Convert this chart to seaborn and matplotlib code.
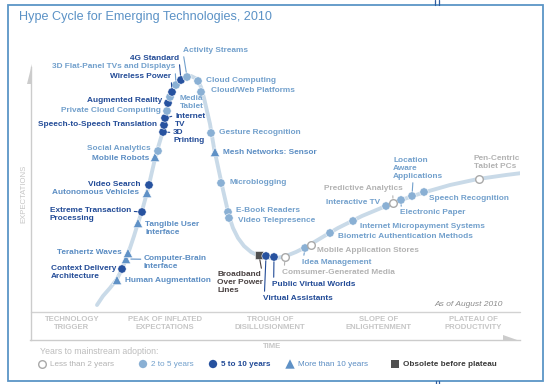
import pandas as pd
import seaborn as sns
import matplotlib.pyplot as plt
from matplotlib.patches import Rectangle, Polygon

# hype curve (time, expectations)
curve_time = [67, 73, 80, 87, 92, 96, 100, 104, 108, 112, 115, 118, 121, 124, 127, 130,
              133, 135, 137, 140, 144, 149, 155, 161, 167, 171, 174, 177, 180, 182, 184,
              187, 190, 193, 196, 199, 203, 208, 214, 221, 229, 238, 247, 256, 266, 276,
              286, 296, 308, 320, 332, 344, 356, 368, 380, 392, 406, 420, 434, 448, 462,
              476, 492]
curve_expect = [32, 41, 49, 58, 68, 78, 89, 101, 114, 126, 137, 148, 161, 174, 186, 196,
                206, 217, 227, 239, 249, 256, 260, 261, 258, 250, 239, 226, 213, 201, 189,
                175, 161, 147, 134, 121, 109, 99, 91, 85, 81, 79, 79, 81, 85, 90, 96, 102,
                109, 115, 121, 126, 131, 136, 140, 144, 148, 152, 155, 158, 160, 162, 164]

tech_names = ['Human Augmentation', 'Context Delivery\nArchitecture', 'Computer-Brain\nInterface',
              'Terahertz Waves', 'Tangible User\nInterface', 'Extreme Transaction\nProcessing',
              'Autonomous Vehicles', 'Video Search', 'Mobile Robots', 'Social Analytics',
              '3D\nPrinting', 'Speech-to-Speech Translation', 'Internet\nTV',
              'Private Cloud Computing', 'Augmented Reality', 'Media\nTablet', 'Wireless Power',
              '3D Flat-Panel TVs and Displays', '4G Standard', 'Activity Streams',
              'Cloud Computing', 'Cloud/Web Platforms', 'Gesture Recognition',
              'Mesh Networks: Sensor', 'Microblogging', 'E-Book Readers', 'Video Telepresence',
              'Broadband\nOver Power\nLines', 'Virtual Assistants', 'Public Virtual Worlds',
              'Comsumer-Generated Media', 'Idea Management', 'Mobile Application Stores',
              'Biometric Authentication Methods', 'Internet Micropayment Systems',
              'Interactive TV', 'Predictive Analytics', 'Electronic Paper',
              'Location\nAware\nApplications', 'Speech Recognition', 'Pen-Centric\nTablet PCs']
tech_time = [87, 92, 96, 98, 108, 112, 117, 119, 125, 128, 133, 134, 135, 137, 138, 140, 142,
             146, 151, 157, 168, 171, 181, 185, 191, 198, 199, 229, 236, 244, 255, 275, 281,
             300, 323, 356, 363, 371, 382, 394, 449]
tech_expect = [57, 68, 78, 84, 114, 125, 144, 152, 180, 186, 205, 212, 219, 226, 234, 240, 245,
               252, 257, 260, 256, 245, 204, 185, 154, 125, 119, 82, 81, 80, 80, 89, 92, 104,
               116, 131, 134, 137, 141, 145, 158]
tech_years = ['gt10', '5to10', 'gt10', 'gt10', 'gt10', '5to10', 'gt10', '5to10', 'gt10', '2to5',
              '5to10', '5to10', '5to10', '2to5', '5to10', '2to5', '5to10', '2to5', '5to10', '2to5',
              '2to5', '2to5', '2to5', 'gt10', '2to5', '2to5', '2to5', 'obs', '5to10', '5to10',
              'lt2', '2to5', 'lt2', '2to5', '2to5', '2to5', 'lt2', '2to5', '2to5', '2to5', 'lt2']

year_groups = ['lt2', '2to5', '5to10', 'gt10', 'obs']
year_labels = ['Less than 2 years', '2 to 5 years', '5 to 10 years', 'More than 10 years',
               'Obsolete before plateau']

phase_names = ['TECHNOLOGY\nTRIGGER', 'PEAK OF INFLATED\nEXPECTATIONS', 'TROUGH OF\nDISILLUSIONMENT',
               'SLOPE OF\nENLIGHTENMENT', 'PLATEAU OF\nPRODUCTIVITY']
phase_time = [42, 135, 240, 349, 443]

# styles
mark_color = {'lt2': 'white', '2to5': '#8ab0d4', '5to10': '#27529f', 'gt10': '#5f91c6', 'obs': '#505050'}
text_color = {'lt2': '#b3b3b3', '2to5': '#72a0cc', '5to10': '#224b97', 'gt10': '#5b8dc3', 'obs': '#4a4242'}
mark_shape = {'lt2': 'o', '2to5': 'o', '5to10': 'o', 'gt10': '^', 'obs': 's'}
mark_size = {'lt2': 30, '2to5': 36, '5to10': 36, 'gt10': 46, 'obs': 34}

# label placement: offset in pixels, alignment, leader anchor (None = no leader)
label_layout = {
    'Human Augmentation': (8, -1, 'left', None),
    'Context Delivery\nArchitecture': (-6, -3, 'right', None),
    'Computer-Brain\nInterface': (18, -4, 'left', (0, 0.75)),
    'Terahertz Waves': (-6, 1, 'right', None),
    'Tangible User\nInterface': (7, -5, 'left', None),
    'Extreme Transaction\nProcessing': (-11, -3, 'right', (1, 0.75)),
    'Autonomous Vehicles': (-8, 0, 'right', None),
    'Video Search': (-8, 1, 'right', None),
    'Mobile Robots': (-6, -1, 'right', None),
    'Social Analytics': (-7, 3, 'right', None),
    '3D\nPrinting': (10, -5, 'left', (0, 0.8)),
    'Speech-to-Speech Translation': (-7, 1, 'right', None),
    'Internet\nTV': (10, -2, 'left', (0, 0.8)),
    'Private Cloud Computing': (-6, 1, 'right', None),
    'Augmented Reality': (-6, 2, 'right', None),
    'Media\nTablet': (10, -6, 'left', None),
    'Wireless Power': (-1, 16, 'right', (1, 0.5)),
    '3D Flat-Panel TVs and Displays': (-1, 18, 'right', (1, 0.5)),
    '4G Standard': (-2, 22, 'right', (1, 0.3)),
    'Activity Streams': (-4, 27, 'left', (0, 0.2)),
    'Cloud Computing': (8, 1, 'left', None),
    'Cloud/Web Platforms': (10, 1, 'left', None),
    'Gesture Recognition': (8, 0, 'left', None),
    'Mesh Networks: Sensor': (8, 0, 'left', None),
    'Microblogging': (9, 0, 'left', None),
    'E-Book Readers': (8, 1, 'left', None),
    'Video Telepresence': (9, -3, 'left', None),
    'Broadband\nOver Power\nLines': (-42, -28, 'left', (0.98, 1)),
    'Virtual Assistants': (-3, -42, 'left', (0.02, 1)),
    'Public Virtual Worlds': (-2, -27, 'left', (0.02, 1)),
    'Comsumer-Generated Media': (-3, -15, 'left', (0.02, 1)),
    'Idea Management': (-3, -14, 'left', (0.02, 1)),
    'Mobile Application Stores': (6, -6, 'left', None),
    'Biometric Authentication Methods': (8, -4, 'left', None),
    'Internet Micropayment Systems': (7, -5, 'left', None),
    'Interactive TV': (-6, 3, 'right', None),
    'Predictive Analytics': (10, 14, 'right', (0.87, 0)),
    'Electronic Paper': (-1, -13, 'left', (0.02, 1)),
    'Location\nAware\nApplications': (-19, 28, 'left', (0.4, 0)),
    'Speech Recognition': (5, -7, 'left', None),
    'Pen-Centric\nTablet PCs': (-5, 17, 'left', None),
}

sns.set_style('white')
plt.rcParams['font.family'] = ['Liberation Sans', 'DejaVu Sans']

fig = plt.figure(figsize=(5.51, 3.84), dpi=100)

# background layer in pixel units: frame, title, arrows, legend
bg = fig.add_axes([0, 0, 1, 1])
bg.set_xlim(0, 551)
bg.set_ylim(384, 0)
bg.axis('off')

frame_c = '#5b95c6'
bg.add_patch(Rectangle((8, 5), 535, 376, fill=False, edgecolor=frame_c, lw=1.3))
for xx in (435, 439):
    bg.plot([xx, xx], [0, 5], color='#2f5d9f', lw=0.9)
for xx in (436, 439):
    bg.plot([xx, xx], [381, 384], color='#2f5d9f', lw=0.9)

bg.text(19, 17, 'Hype Cycle for Emerging Technologies, 2010', fontsize=9.1, color='#5b92c6',
        va='center', ha='left')
grey = '#c6c6c6'
bg.text(24, 194, 'EXPECTATIONS', rotation=90, fontsize=5.6, color=grey, ha='center', va='center')
bg.add_patch(Polygon([(31.8, 64), (31.8, 84), (26.5, 84)], closed=True, color='#cccccc', lw=0))
bg.add_patch(Polygon([(503, 334.5), (503, 340.5), (520, 340.5)], closed=True, color='#cccccc', lw=0))
bg.plot([31, 520], [312, 312], color='#d2d2d2', lw=1)
bg.text(272, 346, 'TIME', fontsize=5.6, color=grey, fontweight='bold', ha='center', va='center')
bg.text(503, 304, 'As of August 2010', fontsize=6, color='#8c8c8c', style='italic',
        ha='right', va='center')

# legend
bg.text(40, 352, 'Years to mainstream adoption:', fontsize=6.3, color='#bdbdbd', va='center')
leg_x = [42, 143, 213, 290, 395]
for g, lab, lx in zip(year_groups, year_labels, leg_x):
    edge = '#a9a9a9' if g == 'lt2' else 'none'
    bg.scatter([lx], [364], marker=mark_shape[g], s=mark_size[g], color=mark_color[g],
               edgecolors=edge, linewidths=1)
    tc = '#3a3a3a' if g == 'obs' else text_color[g]
    bg.text(lx + 8, 364.5, lab, fontsize=5.9, color=tc, va='center', ha='left',
            fontweight='bold' if g in ('5to10', 'obs') else 'normal')

# main hype-cycle axes (time vs expectations)
ax = fig.add_axes([30 / 551, 44 / 384, 490 / 551, 273 / 384])
ax.patch.set_alpha(0)
ax.set_xlim(0, 490)
ax.set_ylim(-3, 270)
for s in ['top', 'right']:
    ax.spines[s].set_visible(False)
ax.spines['left'].set_position(('data', 1))
ax.spines['left'].set_color('#cccccc')
ax.spines['bottom'].set_color('#cccccc')
ax.spines['left'].set_linewidth(1)
ax.spines['bottom'].set_linewidth(1)
ax.set_xticks([])
ax.set_yticks([])

sns.lineplot(x=curve_time, y=curve_expect, sort=False, color='#c9dae8', linewidth=2.8,
             ax=ax, zorder=1)

df = pd.DataFrame({'time': tech_time, 'expect': tech_expect, 'years': tech_years, 'name': tech_names})
filled = df[df['years'] != 'lt2']
sns.scatterplot(data=filled, x='time', y='expect', hue='years', style='years', size='years',
                palette={g: mark_color[g] for g in year_groups[1:]},
                markers={g: mark_shape[g] for g in year_groups[1:]},
                sizes={g: mark_size[g] for g in year_groups[1:]},
                edgecolor='white', linewidth=0.4, legend=False, ax=ax, zorder=3)
opened = df[df['years'] == 'lt2']
sns.scatterplot(data=opened, x='time', y='expect', color='white', edgecolor='#a9a9a9',
                linewidth=1, s=mark_size['lt2'], legend=False, ax=ax, zorder=3)
ax.set_xlabel('')
ax.set_ylabel('')

for _, row in df.iterrows():
    dx, dy, ha, lead = label_layout[row['name']]
    c = text_color[row['years']]
    props = None
    if lead is not None:
        props = dict(arrowstyle='-', color=c, lw=0.8, shrinkA=0, shrinkB=3.5, relpos=lead)
    ax.annotate(row['name'], (row['time'], row['expect']), xytext=(dx, dy),
                textcoords='offset pixels', ha=ha, va='center', multialignment='left',
                fontsize=5.95, fontweight='bold', color=c, linespacing=1.2,
                arrowprops=props, zorder=4)

for name, t in zip(phase_names, phase_time):
    ax.text(t, 13.5, name, ha='center', va='center', fontsize=5.6, color=grey,
            fontweight='bold', linespacing=1.25)

fig.savefig('out.png', dpi=100)
